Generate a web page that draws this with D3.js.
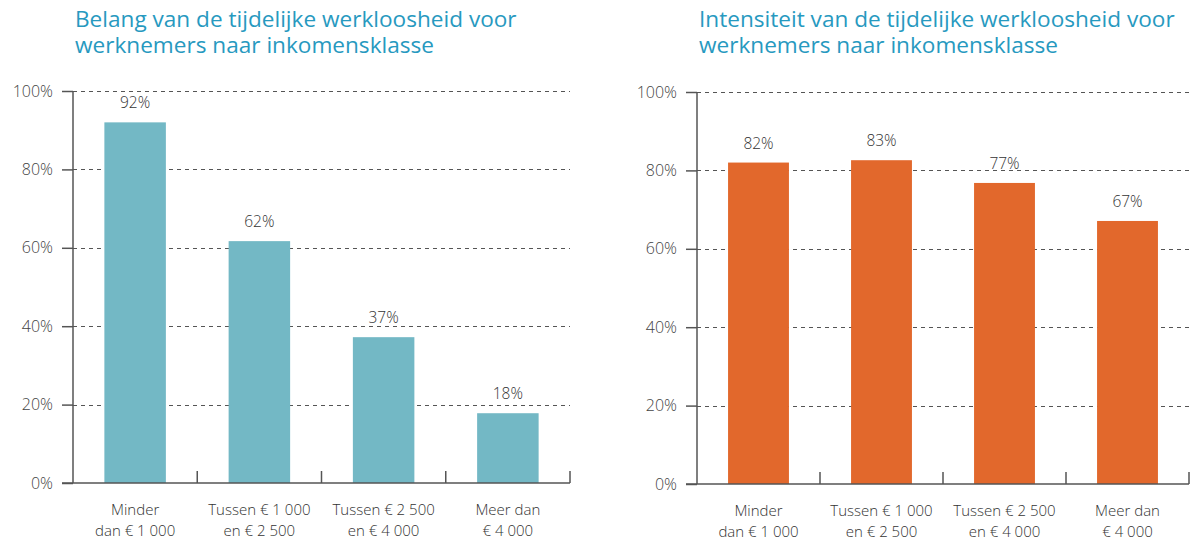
<!DOCTYPE html>
<html>
<head>
<meta charset="utf-8">
<script src="https://cdn.jsdelivr.net/npm/d3@7"></script>
<style>
  body { margin: 0; background: #fff; }
  svg text { font-family: "Open Sans", "Noto Sans", sans-serif; font-weight: 300; }
</style>
</head>
<body>
<svg id="chart" width="1193" height="540"></svg>
<script>
const w = 1193;
const h = 540;

// categories (two lines each)
const categories = [
  ["Minder", "dan € 1 000"],
  ["Tussen € 1 000", "en € 2 500"],
  ["Tussen € 2 500", "en € 4 000"],
  ["Meer dan", "€ 4 000"]
];

// left chart: belang
const belangTitle = ["Belang van de tijdelijke werkloosheid voor", "werknemers naar inkomensklasse"];
const belangValues = [92, 61.7, 37.2, 17.8];

// right chart: intensiteit
const intensiteitTitle = ["Intensiteit van de tijdelijke werkloosheid voor", "werknemers naar inkomensklasse"];
const intensiteitValues = [82, 82.6, 76.8, 67.1];

const yTicks = [0, 20, 40, 60, 80, 100];

const svg = d3.select("#chart");

const drawChart = (opts) => {
  const { left, right, top, bottom, title, values, color } = opts;
  const g = svg.append("g");

  const x = d3.scaleBand().domain(d3.range(categories.length)).range([left, right]).paddingInner(0.505).paddingOuter(0.2525);
  const xEdges = d3.scaleBand().domain(d3.range(categories.length)).range([left, right]);
  const y = d3.scaleLinear().domain([0, 100]).range([bottom, top]);

  // title, one text per line
  g.selectAll(".title")
    .data(title)
    .enter()
    .append("text")
    .attr("x", left + 2)
    .attr("y", (d, i) => 27 + i * 26)
    .attr("fill", "#2799bf")
    .style("font-size", "22.6px")
    .style("font-weight", 400)
    .text((d) => d);

  // grid
  g.selectAll(".grid")
    .data(yTicks.filter((d) => d > 0))
    .enter()
    .append("line")
    .attr("x1", left)
    .attr("x2", right)
    .attr("y1", (d) => Math.round(y(d)) + 0.5)
    .attr("y2", (d) => Math.round(y(d)) + 0.5)
    .attr("stroke", "#555")
    .attr("stroke-width", 1.2)
    .attr("stroke-dasharray", "4,4");

  // bars
  g.selectAll("rect")
    .data(values)
    .enter()
    .append("rect")
    .attr("x", (d, i) => x(i))
    .attr("width", x.bandwidth())
    .attr("y", (d) => y(d))
    .attr("height", (d) => y(0) - y(d))
    .attr("fill", color);

  // value labels
  g.selectAll(".val")
    .data(values)
    .enter()
    .append("text")
    .attr("x", (d, i) => x(i) + x.bandwidth() / 2)
    .attr("y", (d) => y(d) - 14)
    .attr("text-anchor", "middle")
    .attr("fill", "#333")
    .style("font-size", "15.5px")
    .text((d) => Math.round(d) + "%");

  // y axis
  const yAxis = d3.axisLeft(y).tickValues(yTicks).tickSize(11).tickPadding(9).tickFormat((d) => d + "%");
  const ya = g.append("g").attr("transform", `translate(${left},0)`).call(yAxis);
  ya.select(".domain").remove();
  ya.selectAll(".tick line").attr("stroke", "#555").attr("stroke-width", 1.5);
  ya.selectAll(".tick text")
    .attr("fill", "#444")
    .style("font-size", "16px")
    .style("font-weight", 300)
    .style("font-family", '"Open Sans", sans-serif');
  g.append("line")
    .attr("x1", left).attr("x2", left)
    .attr("y1", top).attr("y2", bottom)
    .attr("stroke", "#555").attr("stroke-width", 1.5);

  // x baseline and separators
  g.append("line")
    .attr("x1", left - 11).attr("x2", right)
    .attr("y1", bottom).attr("y2", bottom)
    .attr("stroke", "#555").attr("stroke-width", 1.5);
  g.selectAll(".sep")
    .data(d3.range(categories.length))
    .enter()
    .append("line")
    .attr("x1", (i) => xEdges(i) + xEdges.bandwidth())
    .attr("x2", (i) => xEdges(i) + xEdges.bandwidth())
    .attr("y1", bottom)
    .attr("y2", bottom - 12)
    .attr("stroke", "#555").attr("stroke-width", 1.5);

  // category labels
  const cl = g.selectAll(".cat")
    .data(categories)
    .enter()
    .append("text")
    .attr("text-anchor", "middle")
    .attr("fill", "#333")
    .style("font-size", "15px");
  cl.selectAll("tspan")
    .data((d, i) => d.map((t) => ({ t, i })))
    .enter()
    .append("tspan")
    .attr("x", (d) => x(d.i) + x.bandwidth() / 2)
    .attr("y", (d, j) => bottom + 32 + j * 21)
    .text((d) => d.t);
};

drawChart({ left: 73, right: 570, top: 91, bottom: 483, title: belangTitle, values: belangValues, color: "#73b8c5" });
drawChart({ left: 697, right: 1189, top: 92, bottom: 484, title: intensiteitTitle, values: intensiteitValues, color: "#e2682c" });
</script>
</body>
</html>
